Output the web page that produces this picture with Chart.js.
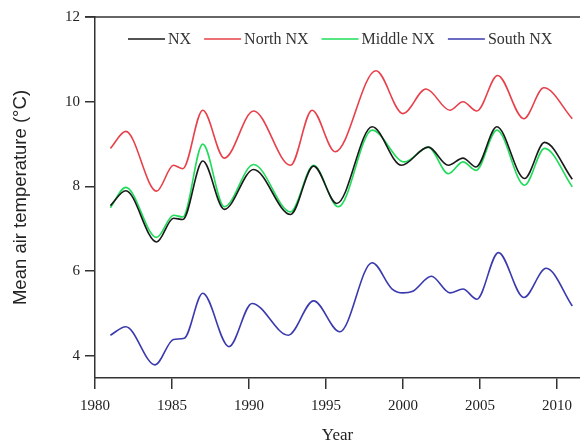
<!DOCTYPE html>
<html>
<head>
<meta charset="utf-8">
<script src="https://cdn.jsdelivr.net/npm/chart.js@4/dist/chart.umd.min.js"></script>
<style>
html,body{margin:0;padding:0;background:#fff;}
#wrap{width:580px;height:446px;}
</style>
</head>
<body>
<div id="wrap"><canvas id="c" width="580" height="446"></canvas></div>
<script>
// Values
const nxYears = [1981, 1982, 1984, 1985.1, 1985.7, 1987, 1988.4, 1990.3, 1992.7, 1994.2, 1995.7, 1998, 1999.9, 2001.65, 2002.95, 2003.9, 2004.75, 2006.1, 2007.9, 2009.2, 2011];
const nxValues = [7.55, 7.90, 6.69, 7.25, 7.22, 8.60, 7.46, 8.40, 7.34, 8.48, 7.60, 9.41, 8.50, 8.93, 8.50, 8.67, 8.46, 9.41, 8.19, 9.04, 8.17];

const northYears = [1981, 1982, 1984, 1985.1, 1985.7, 1987, 1988.4, 1990.3, 1992.7, 1994.1, 1995.6, 1998.25, 2000, 2001.5, 2003.05, 2003.9, 2004.8, 2006.15, 2007.85, 2009.15, 2011];
const northValues = [8.90, 9.30, 7.89, 8.50, 8.42, 9.80, 8.67, 9.78, 8.50, 9.80, 8.82, 10.73, 9.72, 10.30, 9.80, 10.00, 9.78, 10.62, 9.60, 10.33, 9.60];

const middleYears = [1981, 1982, 1984, 1985.1, 1985.7, 1987, 1988.4, 1990.3, 1992.7, 1994.2, 1995.8, 1998, 2000.1, 2001.65, 2002.95, 2003.9, 2004.75, 2006.1, 2007.9, 2009.2, 2011];
const middleValues = [7.50, 7.98, 6.80, 7.32, 7.28, 9.00, 7.52, 8.52, 7.40, 8.50, 7.52, 9.33, 8.58, 8.93, 8.30, 8.58, 8.38, 9.33, 8.03, 8.90, 7.99];

const southYears = [1981, 1982, 1983.9, 1985.1, 1985.8, 1987, 1988.7, 1990.2, 1992.55, 1994.2, 1995.9, 1998, 1999.3, 2000, 2000.6, 2001.85, 2003.05, 2003.9, 2004.8, 2006.2, 2007.85, 2009.3, 2011];
const southValues = [4.49, 4.69, 3.79, 4.39, 4.42, 5.48, 4.22, 5.24, 4.49, 5.30, 4.57, 6.20, 5.58, 5.49, 5.52, 5.88, 5.49, 5.58, 5.34, 6.44, 5.38, 6.07, 5.18];

const xTicks = [1980, 1985, 1990, 1995, 2000, 2005, 2010];
const yTicks = [4, 6, 8, 10, 12];

const seriesNames = ['NX', 'North NX', 'Middle NX', 'South NX'];
const seriesColors = ['#1a1a1a', '#e8404a', '#1fdc5a', '#3a3aae'];

function pts(xs, ys){ return xs.map((x,i)=>({x:x, y:ys[i]})); }
const allData = [pts(nxYears,nxValues), pts(northYears,northValues), pts(middleYears,middleValues), pts(southYears,southValues)];

const serif = "'Liberation Serif', 'Times New Roman', serif";
const sans = "'Liberation Sans', Arial, sans-serif";
const axisColor = '#333';

const frameAndLegend = {
  id:'frameAndLegend',
  afterDraw(chart){
    const {ctx, chartArea} = chart;
    ctx.save();
    // top frame line
    ctx.strokeStyle = axisColor;
    ctx.lineWidth = 1.5;
    ctx.beginPath();
    ctx.moveTo(chartArea.left - 10, chartArea.top);
    ctx.lineTo(chartArea.right, chartArea.top);
    ctx.stroke();
    // legend in a single row inside the plot
    ctx.font = '16px ' + serif;
    ctx.textBaseline = 'middle';
    const lineLen = 37, gap = 3, itemGap = 13;
    const ds = chart.data.datasets;
    const widths = ds.map(d => lineLen + gap + ctx.measureText(d.label).width);
    let x = chartArea.left + 33;
    const y = chartArea.top + 22;
    ds.forEach((d,i)=>{
      ctx.strokeStyle = d.borderColor;
      ctx.lineWidth = 1.6;
      ctx.beginPath();
      ctx.moveTo(x, y);
      ctx.lineTo(x + lineLen, y);
      ctx.stroke();
      ctx.fillStyle = '#333';
      ctx.fillText(d.label, x + lineLen + gap, y + 1);
      x += widths[i] + itemGap;
    });
    ctx.restore();
  }
};

new Chart(document.getElementById('c'), {
  type: 'line',
  data: {
    datasets: seriesNames.map((n,i)=>({
      label: n,
      data: allData[i],
      borderColor: seriesColors[i],
      backgroundColor: seriesColors[i],
      borderWidth: 1.6,
      pointRadius: 0,
      fill: false,
      cubicInterpolationMode: 'monotone'
    }))
  },
  options: {
    responsive: false,
    animation: false,
    devicePixelRatio: 1,
    layout: { padding: { top: 17, right: 0, left: 0, bottom: 0 } },
    plugins: {
      tooltip: { enabled: false },
      legend: { display: false }
    },
    scales: {
      x: {
        type: 'linear',
        min: 1980,
        max: 2011.5,
        afterBuildTicks(s){ s.ticks = xTicks.map(v=>({value:v})); },
        afterFit(s){ s.height = 68; },
        grid: { drawOnChartArea: false, drawTicks: true, tickLength: 11, color: axisColor, lineWidth: 1.5 },
        border: { display: true, color: axisColor, width: 1.5 },
        ticks: { color: '#222', font: { family: serif, size: 15 }, padding: 8, maxRotation: 0, callback: v => String(v) },
        title: { display: true, text: 'Year', color: '#222', font: { family: serif, size: 17 }, padding: 0 }
      },
      y: {
        type: 'linear',
        min: 3.48,
        max: 12,
        afterBuildTicks(s){ s.ticks = yTicks.map(v=>({value:v})); },
        afterFit(s){ s.width = 95; },
        grid: { drawOnChartArea: false, drawTicks: true, tickLength: 10, color: axisColor, lineWidth: 1.5 },
        border: { display: true, color: axisColor, width: 1.5 },
        ticks: { color: '#222', font: { family: serif, size: 15 }, padding: 5, callback: v => String(v) },
        title: { display: true, text: 'Mean air temperature (°C)', color: '#222', font: { family: sans, size: 18.5 }, padding: { top: 10, bottom: 0 } }
      }
    }
  },
  plugins: [frameAndLegend]
});
</script>
</body>
</html>
